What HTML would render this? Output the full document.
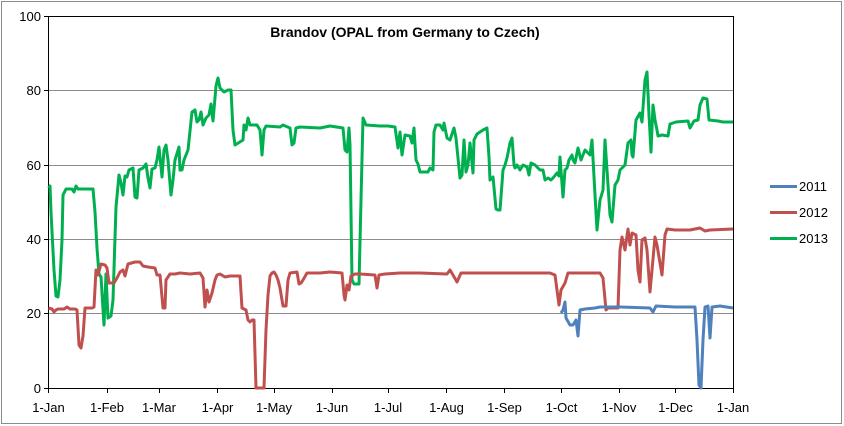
<!DOCTYPE html><html><head><meta charset="utf-8"><style>body{margin:0;background:#fff}svg{display:block}text{font-family:"Liberation Sans",sans-serif}</style></head><body>
<svg width="844" height="426" viewBox="0 0 844 426">
<rect x="1.5" y="1.5" width="840" height="422" fill="#fff" stroke="#8c8c8c"/>
<g stroke="#8c8c8c" stroke-width="1">
<line x1="48.5" x2="733" y1="90.5" y2="90.5"/><line x1="48.5" x2="733" y1="165.5" y2="165.5"/><line x1="48.5" x2="733" y1="239.5" y2="239.5"/><line x1="48.5" x2="733" y1="313.5" y2="313.5"/>
</g>
<g stroke="#000" stroke-width="1" fill="none">
<path d="M48.5 16.5H733.5V388.5M48.5 16V388.5H733.5"/>
<path d="M44 16.5h5M44 90.5h5M44 165.5h5M44 239.5h5M44 313.5h5M44 388.5h5"/>
<path d="M48.5 388v5M107.5 388v5M159.5 388v5M217.5 388v5M274.5 388v5M332.5 388v5M388.5 388v5M446.5 388v5M504.5 388v5M561.5 388v5M619.5 388v5M675.5 388v5M733.5 388v5"/>
</g>
<g font-size="13" text-anchor="end" fill="#000">
<text x="41" y="21">100</text><text x="41" y="95">80</text><text x="41" y="170">60</text><text x="41" y="244">40</text><text x="41" y="318">20</text><text x="41" y="393">0</text>
</g>
<g font-size="13" text-anchor="middle" fill="#000">
<text x="48.5" y="412">1-Jan</text><text x="107" y="412">1-Feb</text><text x="159" y="412">1-Mar</text><text x="217.5" y="412">1-Apr</text><text x="274" y="412">1-May</text><text x="332" y="412">1-Jun</text><text x="388" y="412">1-Jul</text><text x="446.5" y="412">1-Aug</text><text x="504.5" y="412">1-Sep</text><text x="561.5" y="412">1-Oct</text><text x="619" y="412">1-Nov</text><text x="675.5" y="412">1-Dec</text><text x="733" y="412">1-Jan</text>
</g>
<text x="405" y="37" font-size="14" font-weight="bold" text-anchor="middle">Brandov (OPAL from Germany to Czech)</text>
<g fill="none" stroke-width="3" stroke-linejoin="round">
<polyline stroke="#00b050" points="48.5,188 50,186 51,212 54,270 56,296 58,297 60,280 62,240 63,195 66,189 72,189 74,192 76,186 78,189 93,189 95,212 97,248 99,274 101,277 104,325 106,274 108,318 111,316 113,300 116,207 119,175 121,183 123,195 125,176 127,177 129,170 133,168 135,197 137,198 139,170 143,168 146,164 148,178 150,188 152,169 155,168 157,160 159,147 161,167 162,177 164,150 166,145 168,160 171,195 173,180 175,160 179,147 180,170 182,170 184,160 188,150 192,112 195,110 197,122 199,120 201,112 203,125 206,118 209,115 211,104 213,121 216,86 218,78 220,88 224,92 228,90 231,90 233,130 235,145 243,140 244,125 246,130 248,118 250,125 257,125 260,130 262,155 264,130 266,126 280,127 283,125 290,128 292,145 294,143 296,128 300,127 320,128 325,127 330,126 343,128 345,150 347,152 349,128 350,145 352,280 354,284 359,284 361,200 363,118 366,125 380,126 388,126 395,127 398,148 400,132 402,155 405,135 410,136 412,143 414,128 416,160 418,164 420,172 428,172 430,168 433,170 434,132 436,125 440,125 443,130 444,123 447,138 450,140 454,128 456,138 460,178 462,175 464,140 466,172 468,165 470,143 473,173 474,140 477,134 480,132 483,130 487,128 489,157 490,180 493,177 496,209 498,210 500,210 503,170 505,165 507,158 510,143 512,138 514,165 515,168 517,165 520,170 523,165 527,167 529,175 531,163 535,165 540,170 543,170 545,180 548,178 551,180 553,178 557,173 559,176 560,157 563,197 565,170 567,168 569,160 572,155 573,160 575,163 578,148 581,160 585,150 590,155 592,140 595,195 597,230 600,200 603,190 605,140 608,185 610,215 612,222 615,185 618,180 620,170 625,165 628,143 631,140 632,155 633,157 636,120 640,113 642,122 645,80 647,72 649,115 651,152 653,105 655,120 657,130 658,136 662,135 668,136 670,124 676,122 688,121 690,128 694,121 698,120 700,105 703,98 707,99 709,120 718,121 723,122 733,122"/>
<polyline stroke="#c0504d" points="48.5,308 52,309 54,312 56,310 58,309 64,309 67,307 70,309 75,309 77,310 79,345 81,348 83,336 85,308 92,308 94,307 96,270 98,275 101,264 105,265 107,268 109,283 112,283 114,283 117,278 120,272 123,270 125,276 128,264 135,262 140,262 143,266 148,267 155,268 157,275 160,275 163,308 165,308 166,280 170,274 175,274 180,273 190,274 200,273 203,278 205,307 207,290 209,302 212,293 215,280 217,275 220,274 225,277 230,276 240,276 242,308 246,310 248,320 250,322 252,320 254,320 256,388 258,388 264,388 266,330 268,295 270,276 272,273 274,272 276,275 278,280 280,288 283,306 286,306 288,280 290,273 297,272 299,284 301,283 303,280 307,273 320,273 330,272 342,273 344,295 345,300 347,285 349,290 351,276 355,274 360,274 375,275 377,288 379,275 385,274 400,273 420,273 447,274 450,270 453,275 457,282 461,273 480,273 510,273 550,273 555,275 559,305 561,290 565,283 568,273 600,273 603,278 606,310 608,308 618,308 620,250 622,237 625,250 628,229 630,245 632,233 636,235 638,270 640,282 642,240 645,238 647,250 650,292 655,237 657,245 662,275 665,235 667,229 675,230 685,230 690,230 700,228 705,231 710,230 733,229"/>
<polyline stroke="#4f81bd" points="561,313 563,310 565,302 566,318 570,325 573,325 576,320 578,336 580,310 585,309 595,308 600,307 620,307 650,308 653,312 656,306 675,307 695,307 697,340 699,385 701,388 703,340 705,307 708,306 710,338 712,307 720,306 733,308"/>
<line stroke="#4f81bd" x1="770" x2="797" y1="186.5" y2="186.5"/>
<line stroke="#c0504d" x1="770" x2="797" y1="212.5" y2="212.5"/>
<line stroke="#00b050" x1="770" x2="797" y1="238.5" y2="238.5"/>
</g>
<g font-size="13" fill="#000"><text x="799" y="191">2011</text><text x="799" y="217">2012</text><text x="799" y="243">2013</text></g>
</svg></body></html>
